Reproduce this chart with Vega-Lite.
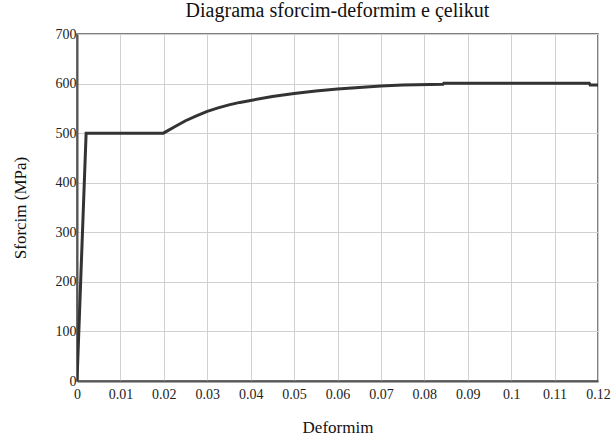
{
  "$schema": "https://vega.github.io/schema/vega-lite/v6.json",
  "autosize": "none",
  "width": 521,
  "height": 347,
  "padding": {"left": 77, "top": 34, "right": 16, "bottom": 60},
  "background": "white",
  "config": {
    "font": "Liberation Serif",
    "view": {"stroke": "#555", "strokeWidth": 1.5}
  },
  "title": {
    "text": "Diagrama sforcim-deformim e çelikut",
    "font": "Liberation Serif",
    "fontSize": 20,
    "fontWeight": "normal",
    "color": "#111",
    "anchor": "middle",
    "frame": "group",
    "offset": 6
  },
  "data": {
    "values": [
      {"strain": 0, "stress": 0},
      {"strain": 0.0021, "stress": 500},
      {"strain": 0.0199, "stress": 500},
      {"strain": 0.0225, "stress": 513},
      {"strain": 0.025, "stress": 525},
      {"strain": 0.0275, "stress": 535},
      {"strain": 0.03, "stress": 544},
      {"strain": 0.0325, "stress": 551},
      {"strain": 0.035, "stress": 557},
      {"strain": 0.0375, "stress": 562},
      {"strain": 0.04, "stress": 566},
      {"strain": 0.045, "stress": 574},
      {"strain": 0.05, "stress": 580},
      {"strain": 0.055, "stress": 585},
      {"strain": 0.06, "stress": 589},
      {"strain": 0.065, "stress": 592},
      {"strain": 0.07, "stress": 595},
      {"strain": 0.075, "stress": 597},
      {"strain": 0.0843, "stress": 598.5},
      {"strain": 0.0845, "stress": 600.5},
      {"strain": 0.118, "stress": 600.5},
      {"strain": 0.1182, "stress": 597},
      {"strain": 0.12, "stress": 597}
    ]
  },
  "mark": {"type": "line", "color": "#333", "strokeWidth": 3, "clip": true},
  "encoding": {
    "x": {
      "field": "strain",
      "type": "quantitative",
      "scale": {"domain": [0, 0.12], "nice": false, "zero": false},
      "axis": {
        "title": "Deformim",
        "titleFont": "Liberation Serif",
        "titleFontSize": 17,
        "titleFontWeight": "normal",
        "titleColor": "#111",
        "titlePadding": 18,
        "values": [0, 0.01, 0.02, 0.03, 0.04, 0.05, 0.06, 0.07, 0.08, 0.09, 0.1, 0.11, 0.12],
        "labelExpr": "format(datum.value, '')",
        "labelFont": "Liberation Serif",
        "labelFontSize": 14,
        "labelColor": "#222",
        "labelPadding": 6,
        "labelFlush": false,
        "ticks": false,
        "domainColor": "#555",
        "domainWidth": 2,
        "gridColor": "#d0d0d0",
        "gridWidth": 1
      }
    },
    "y": {
      "field": "stress",
      "type": "quantitative",
      "scale": {"domain": [0, 700], "nice": false},
      "axis": {
        "title": "Sforcim (MPa)",
        "titleFont": "Liberation Serif",
        "titleFontSize": 17,
        "titleFontWeight": "normal",
        "titleColor": "#111",
        "titlePadding": 26,
        "values": [0, 100, 200, 300, 400, 500, 600, 700],
        "labelFont": "Liberation Serif",
        "labelFontSize": 14,
        "labelColor": "#222",
        "labelPadding": 1,
        "labelFlush": false,
        "ticks": false,
        "domainColor": "#555",
        "domainWidth": 2,
        "gridColor": "#d0d0d0",
        "gridWidth": 1
      }
    }
  }
}
